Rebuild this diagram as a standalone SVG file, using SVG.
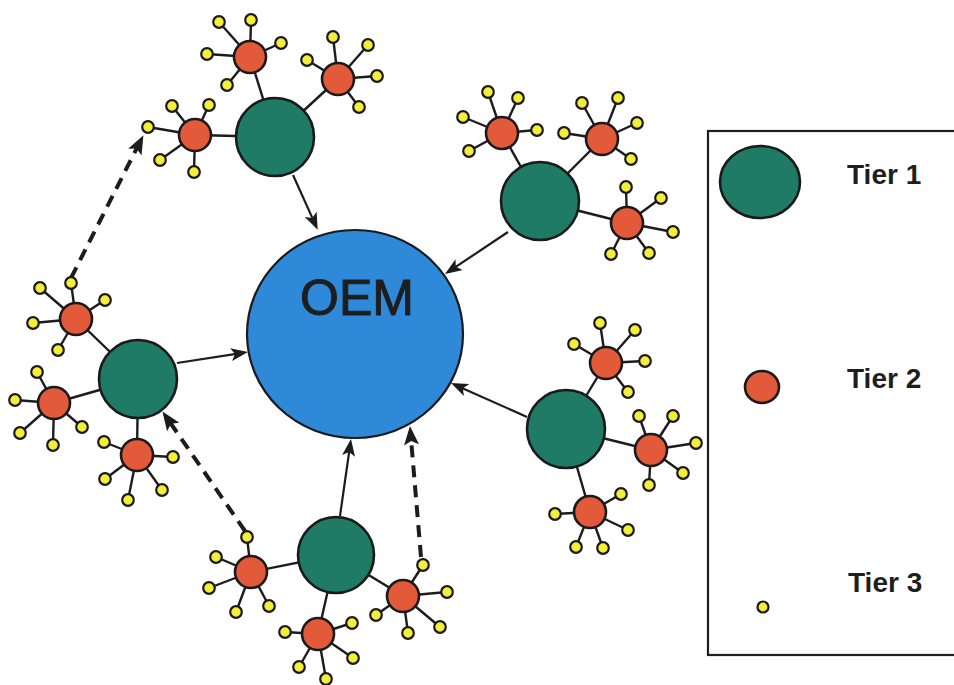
<svg xmlns="http://www.w3.org/2000/svg" width="954" height="685" viewBox="0 0 954 685">
  <defs>
    <style>
      .link { stroke: #1c1c1c; stroke-width: 2.2; fill: none; }
      .spoke { stroke: #1c1c1c; stroke-width: 2.4; }
      .dash { stroke: #1c1c1c; stroke-width: 4; stroke-dasharray: 12 8; fill: none; }
      .oem { fill: #2e8ad9; stroke: #1a1a1a; stroke-width: 2.2; }
      .t1 { fill: #1f7b65; stroke: #1a1a1a; stroke-width: 2.6; }
      .t2 { fill: #e35a3b; stroke: #1a1a1a; stroke-width: 2.6; }
      .t3 { fill: #f3ee3a; stroke: #1a1a1a; stroke-width: 2.2; }
      .label { font-family: "Liberation Sans", Arial, sans-serif; fill: #1e1e1e; }
    </style>
    <marker id="arrow" markerUnits="userSpaceOnUse" markerWidth="17" markerHeight="13" refX="10" refY="6.5" orient="auto">
      <path d="M0,0 L17,6.5 L0,13 L4,6.5 z" fill="#1c1c1c"/>
    </marker>
    <marker id="arrow-wide" markerUnits="userSpaceOnUse" markerWidth="19" markerHeight="15" refX="11" refY="7.5" orient="auto">
      <path d="M0,0 L19,7.5 L0,15 L4,7.5 z" fill="#1c1c1c"/>
    </marker>
  </defs>

  <rect width="954" height="685" fill="#ffffff"/>

  <!-- all connecting lines, drawn beneath the nodes -->
  <g id="connectors">
    <!-- spokes: tier 1 to tier 2 -->
    <g class="spoke">
      <line x1="275" y1="137" x2="250" y2="57"/>
      <line x1="275" y1="137" x2="338" y2="79"/>
      <line x1="275" y1="137" x2="195" y2="135"/>
      <line x1="540" y1="201" x2="502" y2="133"/>
      <line x1="540" y1="201" x2="602" y2="139"/>
      <line x1="540" y1="201" x2="627" y2="223"/>
      <line x1="138" y1="379" x2="76" y2="319"/>
      <line x1="138" y1="379" x2="54" y2="403"/>
      <line x1="138" y1="379" x2="137" y2="455"/>
      <line x1="566" y1="429" x2="606" y2="363"/>
      <line x1="566" y1="429" x2="651" y2="450"/>
      <line x1="566" y1="429" x2="590" y2="512"/>
      <line x1="336" y1="555" x2="251" y2="572"/>
      <line x1="336" y1="555" x2="318" y2="634"/>
      <line x1="336" y1="555" x2="403" y2="596"/>
    </g>
    <!-- spokes: tier 2 to tier 3 -->
    <g class="spoke">
      <line x1="250" y1="57" x2="219" y2="22"/><line x1="250" y1="57" x2="251" y2="20"/><line x1="250" y1="57" x2="281" y2="43"/><line x1="250" y1="57" x2="207" y2="54"/><line x1="250" y1="57" x2="227" y2="85"/>
      <line x1="338" y1="79" x2="333" y2="37"/><line x1="338" y1="79" x2="368" y2="45"/><line x1="338" y1="79" x2="377" y2="76"/><line x1="338" y1="79" x2="359" y2="107"/><line x1="338" y1="79" x2="307" y2="60"/>
      <line x1="195" y1="135" x2="172" y2="106"/><line x1="195" y1="135" x2="209" y2="105"/><line x1="195" y1="135" x2="148" y2="127"/><line x1="195" y1="135" x2="160" y2="160"/><line x1="195" y1="135" x2="194" y2="172"/>

      <line x1="502" y1="133" x2="488" y2="92"/><line x1="502" y1="133" x2="518" y2="98"/><line x1="502" y1="133" x2="463" y2="117"/><line x1="502" y1="133" x2="537" y2="130"/><line x1="502" y1="133" x2="469" y2="151"/>
      <line x1="602" y1="139" x2="582" y2="103"/><line x1="602" y1="139" x2="618" y2="98"/><line x1="602" y1="139" x2="637" y2="123"/><line x1="602" y1="139" x2="564" y2="133"/><line x1="602" y1="139" x2="631" y2="159"/>
      <line x1="627" y1="223" x2="626" y2="187"/><line x1="627" y1="223" x2="661" y2="198"/><line x1="627" y1="223" x2="673" y2="232"/><line x1="627" y1="223" x2="649" y2="253"/><line x1="627" y1="223" x2="611" y2="254"/>

      <line x1="76" y1="319" x2="71" y2="283"/><line x1="76" y1="319" x2="40" y2="288"/><line x1="76" y1="319" x2="105" y2="300"/><line x1="76" y1="319" x2="33" y2="323"/><line x1="76" y1="319" x2="58" y2="350"/>
      <line x1="54" y1="403" x2="37" y2="372"/><line x1="54" y1="403" x2="15" y2="400"/><line x1="54" y1="403" x2="20" y2="433"/><line x1="54" y1="403" x2="53" y2="445"/><line x1="54" y1="403" x2="82" y2="427"/>
      <line x1="137" y1="455" x2="104" y2="442"/><line x1="137" y1="455" x2="173" y2="457"/><line x1="137" y1="455" x2="105" y2="479"/><line x1="137" y1="455" x2="162" y2="490"/><line x1="137" y1="455" x2="128" y2="500"/>

      <line x1="606" y1="363" x2="600" y2="323"/><line x1="606" y1="363" x2="635" y2="330"/><line x1="606" y1="363" x2="645" y2="361"/><line x1="606" y1="363" x2="574" y2="344"/><line x1="606" y1="363" x2="628" y2="392"/>
      <line x1="651" y1="450" x2="639" y2="416"/><line x1="651" y1="450" x2="673" y2="416"/><line x1="651" y1="450" x2="696" y2="443"/><line x1="651" y1="450" x2="683" y2="473"/><line x1="651" y1="450" x2="649" y2="485"/>
      <line x1="590" y1="512" x2="621" y2="494"/><line x1="590" y1="512" x2="555" y2="514"/><line x1="590" y1="512" x2="628" y2="530"/><line x1="590" y1="512" x2="576" y2="547"/><line x1="590" y1="512" x2="603" y2="548"/>

      <line x1="251" y1="572" x2="247" y2="537"/><line x1="251" y1="572" x2="216" y2="557"/><line x1="251" y1="572" x2="209" y2="588"/><line x1="251" y1="572" x2="236" y2="612"/><line x1="251" y1="572" x2="269" y2="606"/>
      <line x1="318" y1="634" x2="285" y2="632"/><line x1="318" y1="634" x2="352" y2="623"/><line x1="318" y1="634" x2="299" y2="667"/><line x1="318" y1="634" x2="353" y2="658"/><line x1="318" y1="634" x2="326" y2="679"/>
      <line x1="403" y1="596" x2="423" y2="565"/><line x1="403" y1="596" x2="447" y2="592"/><line x1="403" y1="596" x2="376" y2="615"/><line x1="403" y1="596" x2="408" y2="633"/><line x1="403" y1="596" x2="440" y2="627"/>
    </g>
    <!-- supply arrows into the OEM -->
    <g class="link" marker-end="url(#arrow)">
      <line x1="293" y1="175" x2="314.8" y2="223.4"/>
      <line x1="508" y1="232" x2="450.8" y2="270.2"/>
      <line x1="177" y1="363" x2="241" y2="353.1"/>
      <line x1="527" y1="417" x2="457.4" y2="385.9"/>
      <line x1="340" y1="516" x2="350" y2="446"/>
    </g>
    <!-- cross-tier dashed arrows -->
    <g class="dash" marker-end="url(#arrow-wide)">
      <line x1="71" y1="278" x2="139.8" y2="142.3"/>
      <line x1="245" y1="531" x2="167" y2="418"/>
      <line x1="421" y1="557" x2="410.6" y2="434"/>
    </g>
  </g>

  <!-- central manufacturer -->
  <g id="oem">
    <ellipse class="oem" cx="355" cy="334" rx="108" ry="104"/>
    <text class="label" x="357" y="315" font-size="50" text-anchor="middle" stroke="#1e1e1e" stroke-width="1">OEM</text>
  </g>

  <!-- tier 1 suppliers -->
  <g id="tier1-top"><circle class="t1" cx="275" cy="137" r="39"/></g>
  <g id="tier1-right-top"><circle class="t1" cx="540" cy="201" r="39"/></g>
  <g id="tier1-left"><circle class="t1" cx="138" cy="379" r="39"/></g>
  <g id="tier1-right-bottom"><circle class="t1" cx="566" cy="429" r="39"/></g>
  <g id="tier1-bottom"><circle class="t1" cx="336" cy="555" r="38"/></g>

  <!-- tier 2 suppliers, each with its tier 3 suppliers -->
  <g id="top-a"><circle class="t2" cx="250" cy="57" r="16"/>
    <g class="t3"><circle cx="219" cy="22" r="5.8"/><circle cx="251" cy="20" r="5.8"/><circle cx="281" cy="43" r="5.8"/><circle cx="207" cy="54" r="5.8"/><circle cx="227" cy="85" r="5.8"/></g></g>
  <g id="top-b"><circle class="t2" cx="338" cy="79" r="16"/>
    <g class="t3"><circle cx="333" cy="37" r="5.8"/><circle cx="368" cy="45" r="5.8"/><circle cx="377" cy="76" r="5.8"/><circle cx="359" cy="107" r="5.8"/><circle cx="307" cy="60" r="5.8"/></g></g>
  <g id="top-c"><circle class="t2" cx="195" cy="135" r="16"/>
    <g class="t3"><circle cx="172" cy="106" r="5.8"/><circle cx="209" cy="105" r="5.8"/><circle cx="148" cy="127" r="5.8"/><circle cx="160" cy="160" r="5.8"/><circle cx="194" cy="172" r="5.8"/></g></g>

  <g id="right-top-a"><circle class="t2" cx="502" cy="133" r="16"/>
    <g class="t3"><circle cx="488" cy="92" r="5.8"/><circle cx="518" cy="98" r="5.8"/><circle cx="463" cy="117" r="5.8"/><circle cx="537" cy="130" r="5.8"/><circle cx="469" cy="151" r="5.8"/></g></g>
  <g id="right-top-b"><circle class="t2" cx="602" cy="139" r="16"/>
    <g class="t3"><circle cx="582" cy="103" r="5.8"/><circle cx="618" cy="98" r="5.8"/><circle cx="637" cy="123" r="5.8"/><circle cx="564" cy="133" r="5.8"/><circle cx="631" cy="159" r="5.8"/></g></g>
  <g id="right-top-c"><circle class="t2" cx="627" cy="223" r="16"/>
    <g class="t3"><circle cx="626" cy="187" r="5.8"/><circle cx="661" cy="198" r="5.8"/><circle cx="673" cy="232" r="5.8"/><circle cx="649" cy="253" r="5.8"/><circle cx="611" cy="254" r="5.8"/></g></g>

  <g id="left-a"><circle class="t2" cx="76" cy="319" r="16"/>
    <g class="t3"><circle cx="71" cy="283" r="5.8"/><circle cx="40" cy="288" r="5.8"/><circle cx="105" cy="300" r="5.8"/><circle cx="33" cy="323" r="5.8"/><circle cx="58" cy="350" r="5.8"/></g></g>
  <g id="left-b"><circle class="t2" cx="54" cy="403" r="16"/>
    <g class="t3"><circle cx="37" cy="372" r="5.8"/><circle cx="15" cy="400" r="5.8"/><circle cx="20" cy="433" r="5.8"/><circle cx="53" cy="445" r="5.8"/><circle cx="82" cy="427" r="5.8"/></g></g>
  <g id="left-c"><circle class="t2" cx="137" cy="455" r="16"/>
    <g class="t3"><circle cx="104" cy="442" r="5.8"/><circle cx="173" cy="457" r="5.8"/><circle cx="105" cy="479" r="5.8"/><circle cx="162" cy="490" r="5.8"/><circle cx="128" cy="500" r="5.8"/></g></g>

  <g id="right-bottom-a"><circle class="t2" cx="606" cy="363" r="16"/>
    <g class="t3"><circle cx="600" cy="323" r="5.8"/><circle cx="635" cy="330" r="5.8"/><circle cx="645" cy="361" r="5.8"/><circle cx="574" cy="344" r="5.8"/><circle cx="628" cy="392" r="5.8"/></g></g>
  <g id="right-bottom-b"><circle class="t2" cx="651" cy="450" r="16"/>
    <g class="t3"><circle cx="639" cy="416" r="5.8"/><circle cx="673" cy="416" r="5.8"/><circle cx="696" cy="443" r="5.8"/><circle cx="683" cy="473" r="5.8"/><circle cx="649" cy="485" r="5.8"/></g></g>
  <g id="right-bottom-c"><circle class="t2" cx="590" cy="512" r="16"/>
    <g class="t3"><circle cx="621" cy="494" r="5.8"/><circle cx="555" cy="514" r="5.8"/><circle cx="628" cy="530" r="5.8"/><circle cx="576" cy="547" r="5.8"/><circle cx="603" cy="548" r="5.8"/></g></g>

  <g id="bottom-a"><circle class="t2" cx="251" cy="572" r="16"/>
    <g class="t3"><circle cx="247" cy="537" r="5.8"/><circle cx="216" cy="557" r="5.8"/><circle cx="209" cy="588" r="5.8"/><circle cx="236" cy="612" r="5.8"/><circle cx="269" cy="606" r="5.8"/></g></g>
  <g id="bottom-b"><circle class="t2" cx="318" cy="634" r="16"/>
    <g class="t3"><circle cx="285" cy="632" r="5.8"/><circle cx="352" cy="623" r="5.8"/><circle cx="299" cy="667" r="5.8"/><circle cx="353" cy="658" r="5.8"/><circle cx="326" cy="679" r="5.8"/></g></g>
  <g id="bottom-c"><circle class="t2" cx="403" cy="596" r="16"/>
    <g class="t3"><circle cx="423" cy="565" r="5.8"/><circle cx="447" cy="592" r="5.8"/><circle cx="376" cy="615" r="5.8"/><circle cx="408" cy="633" r="5.8"/><circle cx="440" cy="627" r="5.8"/></g></g>

  <!-- legend -->
  <g id="legend">
    <rect x="708" y="131" width="260" height="524" fill="none" stroke="#1e1e1e" stroke-width="2.2"/>
    <ellipse class="t1" cx="760" cy="182" rx="40" ry="36"/>
    <text class="label" x="847" y="184" font-size="28" font-weight="bold">Tier 1</text>
    <ellipse class="t2" cx="762" cy="387" rx="17" ry="16"/>
    <text class="label" x="847" y="388" font-size="28" font-weight="bold">Tier 2</text>
    <circle class="t3" cx="763" cy="607" r="5.5"/>
    <text class="label" x="848" y="592" font-size="28" font-weight="bold">Tier 3</text>
  </g>
</svg>
